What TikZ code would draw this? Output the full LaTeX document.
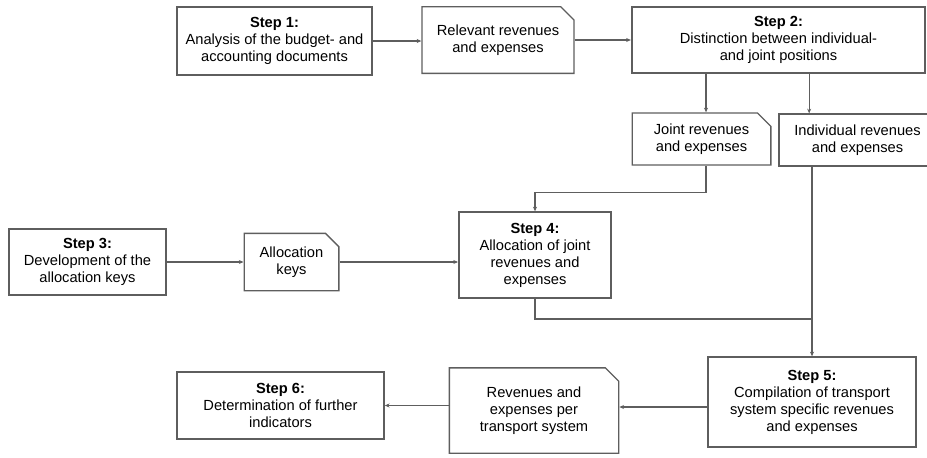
\documentclass[tikz,border=0pt]{standalone}
\usepackage{fontspec}
\setmainfont{Liberation Sans}
\usetikzlibrary{arrows.meta,shapes.misc,calc}
\definecolor{linegray}{HTML}{5E5E5E}
\tikzset{
    stepbox/.style={
           rectangle,
           draw=linegray, line width=1.5pt,
           inner sep=2pt,
           align=center,
           font=\fontsize{11}{12.8}\selectfont,
           },
}
\tikzset{
    docbox/.style={
           chamfered rectangle,
           chamfered rectangle corners=north east,
           chamfered rectangle xsep=5pt,
           chamfered rectangle ysep=5pt,
           draw=linegray, line width=1pt,
           inner sep=2pt,
           align=center,
           font=\fontsize{11}{12.8}\selectfont,
           },
}
\tikzset{
    flow/.style={
           draw=linegray, line width=1pt,
           -{Stealth[length=3.5pt,width=3pt]},
           },
}
\begin{document}
\begin{tikzpicture}[x=0.75pt,y=-0.75pt]
\useasboundingbox (0,0) rectangle (927,457);
\clip (0,0) rectangle (927,457);
\node[stepbox,minimum width=146pt,minimum height=51pt](s1) at (274.5,41){\textbf{Step 1:}\\Analysis of the budget- and\\accounting documents};
\node[docbox,minimum width=114pt,minimum height=50pt](rel) at (498,40){Relevant revenues\\and expenses};
\node[stepbox,minimum width=220pt,minimum height=50pt](s2) at (778.5,40){\textbf{Step 2:}\\Distinction between individual-\\and joint positions};
\node[docbox,minimum width=104pt,minimum height=39pt](joint) at (701.5,139){Joint revenues\\and expenses};
\node[draw=linegray,line width=1pt,align=center,font=\fontsize{11}{12.8}\selectfont,minimum width=118pt,minimum height=39pt](indiv) at (857.5,140){Individual revenues\\and expenses};
\node[stepbox,minimum width=118pt,minimum height=50pt](s3) at (87.5,262){\textbf{Step 3:}\\Development of the\\allocation keys};
\node[docbox,minimum width=71pt,minimum height=43pt](keys) at (291.5,262){Allocation\\keys};
\node[stepbox,minimum width=114pt,minimum height=64pt](s4) at (535,255){\textbf{Step 4:}\\Allocation of joint\\revenues and\\expenses};
\node[stepbox,minimum width=156pt,minimum height=67pt](s5) at (812,402){\textbf{Step 5:}\\Compilation of transport\\system specific revenues\\and expenses};
\node[docbox,minimum width=127pt,minimum height=64pt](rev) at (534,410.5){Revenues and\\expenses per\\transport system};
\node[stepbox,minimum width=155pt,minimum height=50pt](s6) at (280.5,405.5){\textbf{Step 6:}\\Determination of further\\indicators};
\coordinate (merge) at (812,319);
\coordinate (ja) at ($(joint.north)+(4.5,0)$);
\coordinate (ia) at ($(indiv.north west)+(31,0)$);
\coordinate (sa) at ($(s5.west)+(0,5)$);

\draw[flow] (s1.east) -- (s1.east -| rel.west);
\draw[flow] (rel.east) -- (rel.east -| s2.west);
\draw[flow] (ja |- s2.south) -- (ja);
\draw[flow] (ia |- s2.south) -- (ia);
\draw[flow] ($(joint.south)+(4.5,0)$) -- ++(0,27) -| (s4.north);
\draw[flow] (s3.east) -- (keys.west);
\draw[flow] (keys.east) -- (keys.east -| s4.west);
\draw[flow] (indiv.south -| s5.north) -- (s5.north);
\draw[draw=linegray,line width=1pt] (s4.south) |- (merge);
\draw[flow] (sa) -- (sa -| rev.east);
\draw[flow] (rev.west |- s6.east) -- (s6.east);
\end{tikzpicture}
\end{document}
